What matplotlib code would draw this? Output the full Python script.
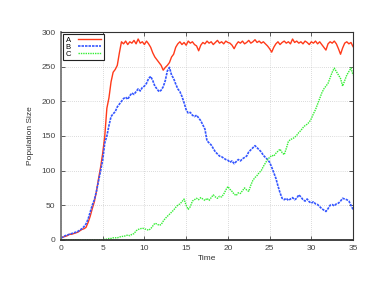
import numpy as np
import matplotlib.pyplot as plt

plt.rcParams['font.family'] = ['Liberation Sans', 'DejaVu Sans']

# sample times (every 0.25 time units)
time = np.arange(141) * 0.25

pop_a = [3, 4, 5, 6, 8, 8, 9, 10, 11, 13, 15, 16, 18, 25, 34, 45,
         55, 70, 88, 105, 125, 150, 190, 205, 228, 242, 246, 252,
         270, 286, 283, 287, 282, 286, 284, 288, 283, 290, 284, 286,
         282, 287, 283, 278, 270, 264, 260, 256, 252, 245, 249, 252,
         256, 264, 268, 278, 283, 286, 282, 285, 281, 287, 284, 286,
         282, 280, 273, 281, 285, 283, 287, 284, 286, 282, 285, 288,
         284, 286, 283, 287, 285, 284, 281, 276, 282, 286, 284, 287,
         283, 285, 288, 284, 286, 289, 285, 287, 284, 286, 283, 280,
         276, 271, 278, 283, 286, 282, 285, 287, 284, 286, 283, 290,
         285, 287, 284, 286, 283, 287, 285, 282, 286, 284, 287, 283,
         286, 282, 278, 274, 283, 286, 284, 287, 283, 276, 268, 277,
         284, 286, 283, 285, 279]

pop_b = [3, 4, 6, 7, 8, 9, 10, 11, 12, 14, 16, 19, 23, 30, 40, 50,
         58, 70, 85, 100, 115, 140, 150, 165, 178, 182, 185, 192,
         196, 200, 204, 206, 203, 208, 212, 210, 214, 218, 215, 220,
         222, 226, 233, 236, 230, 222, 218, 214, 216, 221, 230, 244,
         249, 238, 233, 225, 218, 214, 207, 198, 188, 183, 184, 180,
         178, 180, 176, 172, 166, 160, 143, 140, 137, 132, 127, 124,
         121, 120, 118, 116, 115, 112, 114, 110, 113, 116, 114, 117,
         119, 121, 127, 130, 133, 136, 133, 130, 127, 122, 119, 116,
         112, 105, 97, 89, 78, 68, 60, 58, 60, 57, 59, 61,
         58, 60, 65, 62, 58, 56, 59, 55, 53, 55, 52, 51,
         48, 45, 43, 41, 45, 50, 51, 49, 52, 53, 56, 60,
         59, 58, 56, 50, 44]

pop_c = [0, 0, 0, 0, 0, 0, 0, 0, 0, 0, 0, 0, 0, 0, 0, 0,
         0, 0, 0, 0, 0, 1, 1, 2, 2, 3, 3, 3,
         4, 5, 5, 6, 7, 6, 8, 9, 13, 15, 16, 17,
         16, 15, 14, 16, 20, 24, 23, 21, 22, 27, 31, 34,
         37, 40, 43, 47, 50, 52, 55, 59, 50, 44, 48, 56,
         58, 60, 58, 61, 59, 57, 60, 57, 61, 65, 62, 60,
         63, 62, 66, 72, 77, 73, 70, 66, 64, 68, 67, 71,
         75, 72, 70, 79, 86, 90, 93, 97, 100, 106, 111, 116,
         119, 122, 121, 125, 128, 131, 126, 123, 132, 142, 145, 146,
         148, 151, 155, 158, 162, 165, 167, 170, 175, 182, 188, 196,
         204, 212, 218, 222, 226, 234, 242, 248, 243, 238, 233, 222,
         230, 238, 243, 248, 238]

fig = plt.figure(figsize=(3.74, 2.89), dpi=100)
ax = fig.add_axes([0.163, 0.170, 0.781, 0.719])

ax.plot(time, pop_a, color='#ff3a1a', lw=1.0, label='A')
ax.plot(time, pop_b, color='#3355ff', lw=1.2, ls=(0, (1.5, 0.6)), label='B')
ax.plot(time, pop_c, color='#33ee33', lw=1.0, ls=(0, (1, 0.7)), label='C')

ax.set_xlim(0, 35)
ax.set_ylim(0, 300)
ax.set_xticks([0, 5, 10, 15, 20, 25, 30, 35])
ax.set_yticks([0, 50, 100, 150, 200, 250, 300])
ax.grid(True, ls=(0, (1, 2)), color='#bbbbbb', lw=0.5)
ax.tick_params(direction='in', length=3, width=0.6, labelsize=6,
               colors='#444444', top=True, right=True, pad=4)
for s in ax.spines.values():
    s.set_color('#333333')
    s.set_linewidth(0.8)
ax.spines['left'].set_color('#777777')
ax.spines['left'].set_linewidth(1.3)
ax.spines['bottom'].set_linewidth(1.3)

ax.set_xlabel('Time', fontsize=6, color='#333333', labelpad=2)
ax.set_ylabel('Population Size', fontsize=6, color='#333333', labelpad=5)

leg = ax.legend(loc='upper left', fontsize=5.5, markerfirst=False,
                fancybox=False, framealpha=1, edgecolor='#222222',
                handlelength=3.0, borderaxespad=0.25, labelspacing=-0.05,
                borderpad=0.3, handletextpad=1.0)
leg.get_frame().set_linewidth(0.8)

fig.savefig('out.png', dpi=100)
